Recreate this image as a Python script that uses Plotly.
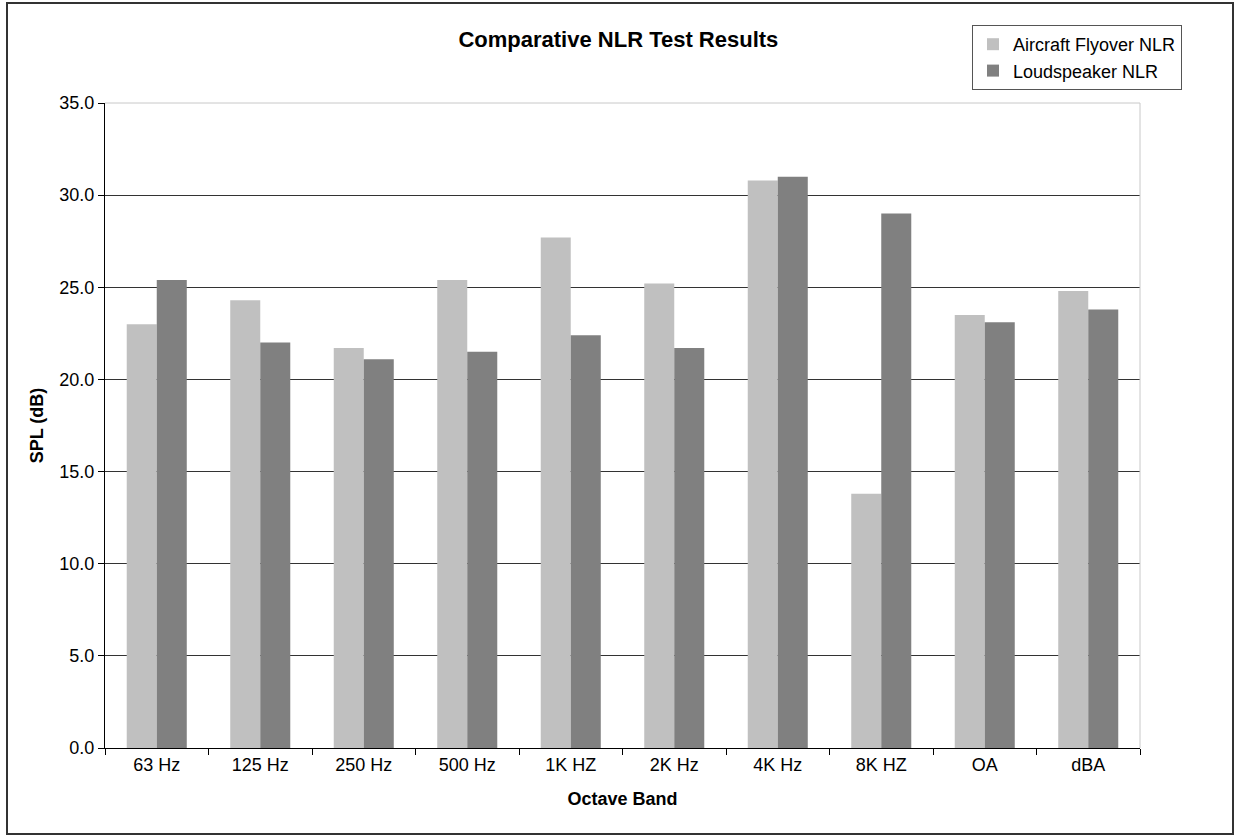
import plotly.graph_objects as go

categories = ["63 Hz", "125 Hz", "250 Hz", "500 Hz", "1K HZ", "2K Hz", "4K Hz", "8K HZ", "OA", "dBA"]
aircraft = [23.0, 24.3, 21.7, 25.4, 27.7, 25.2, 30.8, 13.8, 23.5, 24.8]
loudspeaker = [25.4, 22.0, 21.1, 21.5, 22.4, 21.7, 31.0, 29.0, 23.1, 23.8]
y_ticks = [0, 5, 10, 15, 20, 25, 30, 35]

FONT = "Liberation Sans, Arial, sans-serif"

fig = go.Figure()
fig.add_trace(go.Bar(name="Aircraft Flyover NLR", x=categories, y=aircraft,
                     marker=dict(color="#C0C0C0", line=dict(width=0))))
fig.add_trace(go.Bar(name="Loudspeaker NLR", x=categories, y=loudspeaker,
                     marker=dict(color="#808080", line=dict(width=0))))

L, R, T, B = 105, 98, 103, 88
W, H = 1238, 836
pw, ph = W - L - R, H - T - B

def px(x):
    return (x - L) / pw

def py(y):
    return (H - B - y) / ph

fig.update_layout(
    width=W, height=H,
    margin=dict(l=L, r=R, t=T, b=B),
    paper_bgcolor="white", plot_bgcolor="white",
    barmode="group", bargap=0.42, bargroupgap=0,
    font=dict(family=FONT, size=18, color="black"),
    title=dict(text="<b>Comparative NLR Test Results</b>", x=px(622), xanchor="center",
               y=1 - 39 / H, yanchor="middle", font=dict(size=22)),
    legend=dict(x=px(972), y=py(25), xanchor="left", yanchor="top",
                bordercolor="#555555", borderwidth=1, bgcolor="white",
                font=dict(size=18), itemwidth=30, tracegroupgap=0),
    xaxis=dict(showline=True, linecolor="black", linewidth=1, ticks="outside",
               tickson="boundaries", ticklen=6, tickcolor="black",
               title=dict(text="<b>Octave Band</b>", standoff=18, font=dict(size=18)),
               tickfont=dict(size=18)),
    yaxis=dict(range=[0, 35], tickvals=y_ticks, tickformat=".1f",
               showline=True, linecolor="black", linewidth=1, ticks="outside",
               ticklen=6, tickcolor="black", showgrid=True, gridcolor="#333333",
               gridwidth=1, zeroline=False,
               title=dict(text="<b>SPL (dB)</b>", standoff=11, font=dict(size=18)),
               tickfont=dict(size=18)),
    shapes=[
        dict(type="rect", xref="paper", yref="paper", x0=px(7), x1=px(1233), y0=py(834), y1=py(3),
             line=dict(color="#333333", width=2), fillcolor="rgba(0,0,0,0)", layer="below"),
        dict(type="line", xref="paper", yref="paper", x0=0, x1=1, y0=1, y1=1,
             line=dict(color="#C8C8C8", width=1), layer="above"),
        dict(type="line", xref="paper", yref="paper", x0=1, x1=1, y0=0, y1=1,
             line=dict(color="#C8C8C8", width=1), layer="above"),
    ],
)

fig.write_html("out.html")
